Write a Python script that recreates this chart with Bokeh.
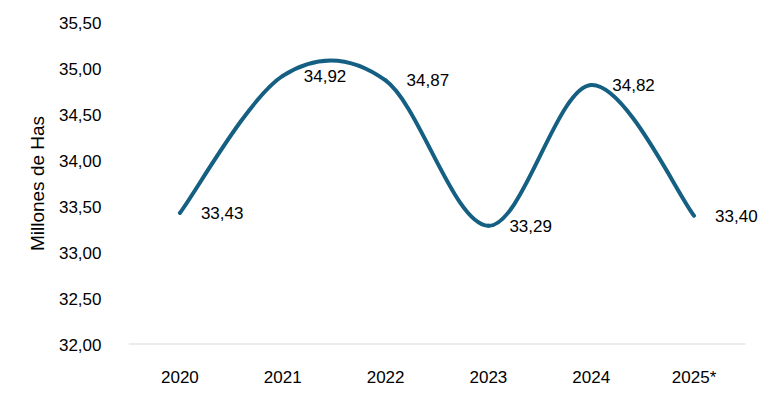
from bokeh.plotting import figure
from bokeh.models import Range1d, FixedTicker, Label
from bokeh.embed import file_html
from bokeh.resources import INLINE

# ---- data ----
categories = ["2020", "2021", "2022", "2023", "2024", "2025*"]
values = [33.43, 34.92, 34.87, 33.29, 34.82, 33.40]
y_ticks = [32.0, 32.5, 33.0, 33.5, 34.0, 34.5, 35.0, 35.5]
y_title = "Millones de Has"

FONT = "Liberation Sans"
LINE_COLOR = "#156082"

xs = [i + 0.5 for i in range(len(categories))]
ncat = len(categories)

# plot area: categories occupy 617 px; frame extended to the right edge so the
# last data label is not clipped
CAT_PX = 617
FRAME_PX = 631
x_end = ncat * FRAME_PX / CAT_PX

p = figure(width=759, height=389, output_backend="svg", toolbar_location=None,
           x_range=Range1d(0, x_end), y_range=Range1d(32, 35.5),
           min_border_left=128, min_border_right=0, min_border_top=22,
           min_border_bottom=41)
p.outline_line_color = None
p.xgrid.grid_line_color = None
p.ygrid.grid_line_color = None
p.background_fill_color = "white"
p.border_fill_color = "white"

# category axis base line (only across the categories)
p.segment(x0=[0], y0=[y_ticks[0]], x1=[ncat], y1=[y_ticks[0]],
          line_color="#d9d9d9", line_width=2)

# smoothed line (Catmull-Rom style bezier segments through the data points)
n = len(values)
pts = list(zip(xs, values))
x0, y0, x1, y1, cx0, cy0, cx1, cy1 = [], [], [], [], [], [], [], []
for i in range(n - 1):
    pm = pts[i - 1] if i > 0 else pts[i]
    pa = pts[i]
    pb = pts[i + 1]
    pn = pts[i + 2] if i + 2 < n else pts[i + 1]
    x0.append(pa[0]); y0.append(pa[1])
    x1.append(pb[0]); y1.append(pb[1])
    cx0.append(pa[0] + (pb[0] - pm[0]) / 6); cy0.append(pa[1] + (pb[1] - pm[1]) / 6)
    cx1.append(pb[0] - (pn[0] - pa[0]) / 6); cy1.append(pb[1] - (pn[1] - pa[1]) / 6)

p.bezier(x0=x0, y0=y0, x1=x1, y1=y1, cx0=cx0, cy0=cy0, cx1=cx1, cy1=cy1,
         line_color=LINE_COLOR, line_width=4, line_cap="round")

# data labels
for x, v in zip(xs, values):
    p.add_layout(Label(x=x, y=v, text=f"{v:.2f}".replace(".", ","), x_offset=21,
                       text_align="left", text_baseline="middle",
                       text_font=FONT, text_font_size="17px",
                       text_color="#000000"))

# x axis
p.xaxis.ticker = FixedTicker(ticks=xs)
p.xaxis.major_label_overrides = {x: c for x, c in zip(xs, categories)}
p.xaxis.major_tick_line_color = None
p.xaxis.minor_tick_line_color = None
p.xaxis.axis_line_color = None
p.xaxis.major_label_standoff = 17
p.xaxis.major_label_text_font = FONT
p.xaxis.major_label_text_font_size = "17px"
p.xaxis.major_label_text_color = "#000000"

# y axis
p.yaxis.ticker = FixedTicker(ticks=y_ticks)
p.yaxis.major_label_overrides = {t: f"{t:.2f}".replace(".", ",") for t in y_ticks}
p.yaxis.major_tick_line_color = None
p.yaxis.minor_tick_line_color = None
p.yaxis.axis_line_color = None
p.yaxis.major_label_standoff = 21
p.yaxis.major_label_text_font = FONT
p.yaxis.major_label_text_font_size = "17px"
p.yaxis.major_label_text_color = "#000000"
p.yaxis.axis_label = y_title
p.yaxis.axis_label_text_font = FONT
p.yaxis.axis_label_text_font_style = "normal"
p.yaxis.axis_label_text_font_size = "19px"
p.yaxis.axis_label_text_color = "#000000"
p.yaxis.axis_label_standoff = 8

open("out.html", "w").write(file_html(p, INLINE))
